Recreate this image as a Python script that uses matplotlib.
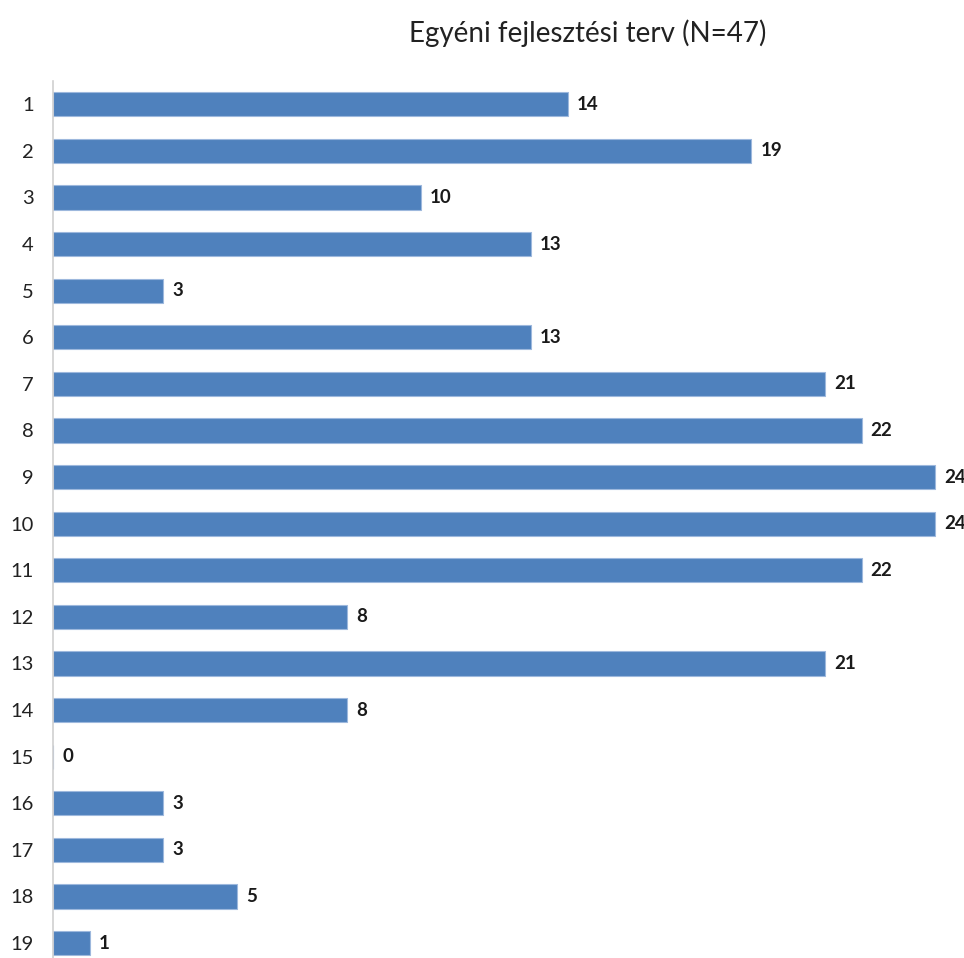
import matplotlib
matplotlib.use("Agg")
import matplotlib.pyplot as plt

categories = [str(i) for i in range(1, 20)]
values = [14, 19, 10, 13, 3, 13, 21, 22, 24, 24, 22, 8, 21, 8, 0, 3, 3, 5, 1]
title = "Egyéni fejlesztési terv (N=47)"

plt.rcParams['font.family'] = ['Lato', 'DejaVu Sans']

W, H = 964, 958
fig = plt.figure(figsize=(W / 100, H / 100), dpi=100)
left, right, top, bottom = 53, 964, 81, 958
ax = fig.add_axes([left / W, 1 - bottom / H, (right - left) / W, (bottom - top) / H])

pos = list(range(1, len(categories) + 1))
ax.barh(pos, values, height=0.52, color="#4F81BD", edgecolor="#9DB8DD", linewidth=0.8)

for p, v in zip(pos, values):
    ax.text(v + 0.25, p, str(v), va="center", ha="left", fontsize=13.5,
            fontweight="bold", color="#1a1a1a", clip_on=False)

ax.set_ylim(19.32, 0.5)
ax.set_xlim(0, (right - left) / 36.75)
ax.set_yticks(pos)
ax.set_yticklabels(categories, fontsize=14.5, color="#222222")
ax.tick_params(axis="y", length=0, pad=14)
for lbl in ax.get_yticklabels():
    lbl.set_horizontalalignment("right")
ax.set_xticks([])
for s in ["top", "right", "bottom"]:
    ax.spines[s].set_visible(False)
ax.spines["left"].set_color("#D0D0D0")
ax.spines["left"].set_linewidth(1.2)

fig.text(588 / W, 1 - 33 / H, title, ha="center", va="center", fontsize=20, color="#222222")

fig.savefig("out.png", dpi=100)
